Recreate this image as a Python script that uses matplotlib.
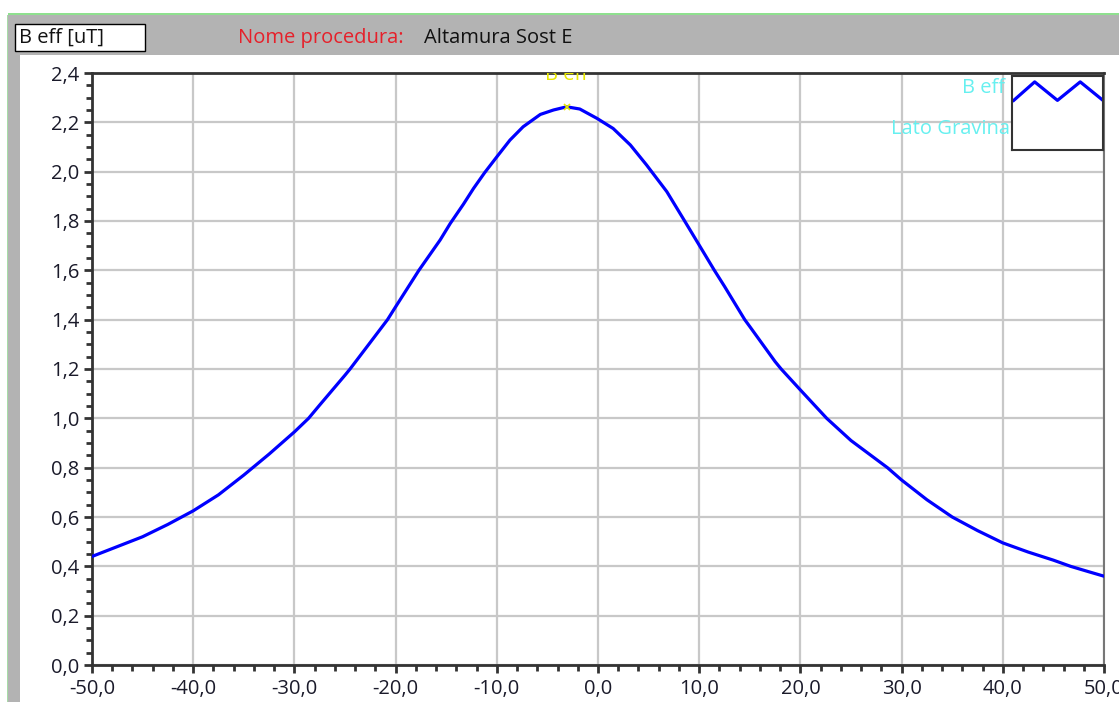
import numpy as np
import matplotlib
matplotlib.use("Agg")
import matplotlib.pyplot as plt
from matplotlib.patches import Rectangle
from matplotlib.ticker import MultipleLocator, FuncFormatter

# distance along the line [m] and effective field [uT]
distance = [-50, -47.5, -45, -42.5, -40, -37.5, -35, -32.5, -30, -28.6,
            -27.5, -25, -24.5, -22.5, -20.8, -20, -17.7, -15.6, -14.6, -13.3,
            -12.3, -11.2, -10, -8.7, -7.4, -5.7, -4.4, -3.1, -1.8, -0.1,
            1.5, 3.2, 4.8, 6.8, 8.4, 9.9, 11.5, 12.5, 14.5, 15,
            17.5, 18.1, 20, 22.6, 25, 28.6, 30, 32.5, 35, 37.5,
            40, 42.5, 45, 46.7, 48.5, 50]
b_eff = [0.44, 0.48, 0.52, 0.57, 0.625, 0.69, 0.77, 0.855, 0.945, 1.0,
         1.054, 1.175, 1.2, 1.308, 1.4, 1.452, 1.6, 1.723, 1.79, 1.868,
         1.932, 1.996, 2.06, 2.128, 2.182, 2.232, 2.25, 2.263, 2.254, 2.216,
         2.175, 2.108, 2.027, 1.919, 1.811, 1.709, 1.6, 1.535, 1.4, 1.372,
         1.23, 1.2, 1.115, 1.0, 0.91, 0.8, 0.75, 0.67, 0.60, 0.545,
         0.495, 0.458, 0.425, 0.40, 0.378, 0.36]

peak_x = -3.1
peak_y = 2.263

unit_label = "B eff [uT]"
proc_label = "Nome procedura:"
proc_name = "Altamura Sost E"
series_name = "B eff"
side_name = "Lato Gravina"

W, H = 1119, 702
FS = 14.5
plt.rcParams['font.family'] = ['Open Sans', 'DejaVu Sans']

fig = plt.figure(figsize=(W / 100, H / 100), dpi=100)
fig.patch.set_facecolor('white')


# rectangle given in pixels from the top-left corner
def px_rect(x, y, w, h, **kw):
    r = Rectangle((x / W, 1 - (y + h) / H), w / W, h / H,
                  transform=fig.transFigure, **kw)
    fig.add_artist(r)
    return r


# window frame around the chart
px_rect(8, 13, W - 8, 2, facecolor='#8fe08f', edgecolor='none')
px_rect(7, 15, 1, H - 15, facecolor='#a8dca8', edgecolor='none')
px_rect(8, 15, W - 8, 40, facecolor='#b3b3b3', edgecolor='none')
px_rect(8, 55, 12, H - 55, facecolor='#b3b3b3', edgecolor='none')
px_rect(15, 24, 130, 27, facecolor='white', edgecolor='black', linewidth=1)

fig.text(19 / W, 1 - 38 / H, unit_label, fontsize=FS, color='#111111',
         ha='left', va='center')
fig.text(238 / W, 1 - 38 / H, proc_label, fontsize=FS, color='#e6202a',
         ha='left', va='center')
fig.text(424 / W, 1 - 38 / H, proc_name, fontsize=FS, color='#111111',
         ha='left', va='center')

# plot area
ax = fig.add_axes([92 / W, 37 / H, 1012 / W, 592 / H])
ax.set_xlim(-50, 50)
ax.set_ylim(0, 2.4)
ax.grid(True, color='#c8c8c8', linewidth=1.6)
ax.set_axisbelow(True)

ax.plot(distance, b_eff, color='#0000ff', linewidth=2.3, zorder=3,
        solid_joinstyle='round')
ax.plot(peak_x, peak_y, marker='x', color='#e8e800', markersize=5,
        markeredgewidth=1.2, zorder=4)
ax.text(peak_x, 2.37, series_name, color='#e8e800', fontsize=FS,
        ha='center', va='baseline', clip_on=True)

ax.xaxis.set_major_locator(MultipleLocator(10))
ax.xaxis.set_minor_locator(MultipleLocator(2))
ax.yaxis.set_major_locator(MultipleLocator(0.2))
ax.yaxis.set_minor_locator(MultipleLocator(0.05))
comma = FuncFormatter(lambda v, p: ('%.1f' % v).replace('.', ','))
ax.xaxis.set_major_formatter(comma)
ax.yaxis.set_major_formatter(comma)
ax.tick_params(which='major', length=6, width=2, color='#333333',
               labelsize=FS, labelcolor='#1a1a2a', direction='out', pad=3)
ax.tick_params(axis='x', which='major', pad=4)
ax.tick_params(which='minor', length=4, width=2, color='#333333', direction='out')

for side in ['left', 'bottom', 'top']:
    ax.spines[side].set_color('#333333')
    ax.spines[side].set_linewidth(2)
ax.spines['right'].set_color('#777777')
ax.spines['right'].set_linewidth(1.5)

# legend box in the upper right corner
leg = ax.inset_axes([0.909, 0.870, 0.090, 0.125])
leg.set_xlim(0, 4)
leg.set_ylim(0, 1)
leg.set_xticks([])
leg.set_yticks([])
leg.patch.set_facecolor('white')
for s in leg.spines.values():
    s.set_color('#333333')
    s.set_linewidth(1.5)
glyph_x = [0.08, 1.0, 2.0, 3.0, 4.0]
glyph_y = [0.67, 0.92, 0.67, 0.92, 0.67]
leg.plot(glyph_x, glyph_y, color='#0000ff', linewidth=2.3)

ax.text(0.902, 0.975, series_name, transform=ax.transAxes, color='#66f0f0',
        fontsize=FS, ha='right', va='center')
ax.text(0.907, 0.905, side_name, transform=ax.transAxes, color='#66f0f0',
        fontsize=FS, ha='right', va='center')

fig.savefig('out.png', dpi=100)
